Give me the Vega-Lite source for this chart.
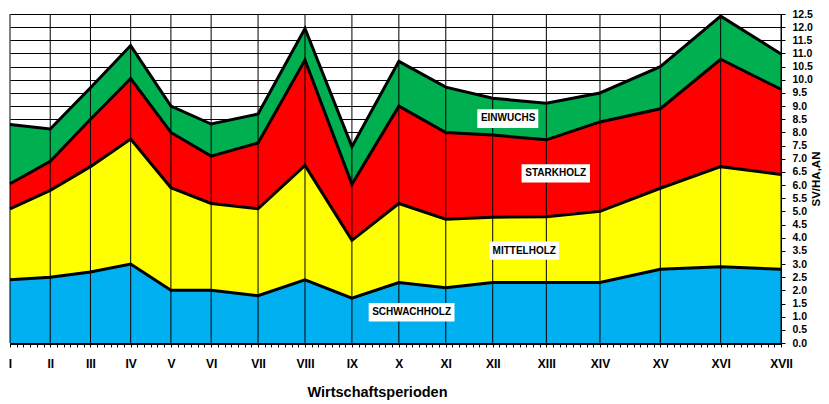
{
  "$schema": "https://vega.github.io/schema/vega-lite/v6.json",
  "autosize": "none",
  "width": 771,
  "height": 329,
  "padding": {"left": 10, "top": 14, "right": 48, "bottom": 61},
  "background": "white",
  "config": {"view": {"stroke": null}},
  "datasets": {
    "periods": [
      {"p": "I", "t": 0, "SCHWACHHOLZ": 2.4, "MITTELHOLZ": 2.7, "STARKHOLZ": 0.95, "EINWUCHS": 2.25},
      {"p": "II", "t": 6, "SCHWACHHOLZ": 2.5, "MITTELHOLZ": 3.3, "STARKHOLZ": 1.1, "EINWUCHS": 1.23},
      {"p": "III", "t": 12, "SCHWACHHOLZ": 2.7, "MITTELHOLZ": 4.0, "STARKHOLZ": 1.8, "EINWUCHS": 1.2},
      {"p": "IV", "t": 18, "SCHWACHHOLZ": 3.0, "MITTELHOLZ": 4.75, "STARKHOLZ": 2.3, "EINWUCHS": 1.25},
      {"p": "V", "t": 24, "SCHWACHHOLZ": 2.0, "MITTELHOLZ": 3.9, "STARKHOLZ": 2.1, "EINWUCHS": 1.0},
      {"p": "VI", "t": 30, "SCHWACHHOLZ": 2.0, "MITTELHOLZ": 3.3, "STARKHOLZ": 1.8, "EINWUCHS": 1.22},
      {"p": "VII", "t": 37, "SCHWACHHOLZ": 1.8, "MITTELHOLZ": 3.3, "STARKHOLZ": 2.5, "EINWUCHS": 1.1},
      {"p": "VIII", "t": 44, "SCHWACHHOLZ": 2.4, "MITTELHOLZ": 4.35, "STARKHOLZ": 4.0, "EINWUCHS": 1.2},
      {"p": "IX", "t": 51, "SCHWACHHOLZ": 1.7, "MITTELHOLZ": 2.2, "STARKHOLZ": 2.13, "EINWUCHS": 1.43},
      {"p": "X", "t": 58, "SCHWACHHOLZ": 2.3, "MITTELHOLZ": 3.0, "STARKHOLZ": 3.7, "EINWUCHS": 1.7},
      {"p": "XI", "t": 65, "SCHWACHHOLZ": 2.1, "MITTELHOLZ": 2.6, "STARKHOLZ": 3.3, "EINWUCHS": 1.72},
      {"p": "XII", "t": 72, "SCHWACHHOLZ": 2.3, "MITTELHOLZ": 2.48, "STARKHOLZ": 3.12, "EINWUCHS": 1.4},
      {"p": "XIII", "t": 80, "SCHWACHHOLZ": 2.3, "MITTELHOLZ": 2.5, "STARKHOLZ": 2.92, "EINWUCHS": 1.39},
      {"p": "XIV", "t": 88, "SCHWACHHOLZ": 2.3, "MITTELHOLZ": 2.7, "STARKHOLZ": 3.4, "EINWUCHS": 1.1},
      {"p": "XV", "t": 97, "SCHWACHHOLZ": 2.8, "MITTELHOLZ": 3.08, "STARKHOLZ": 3.02, "EINWUCHS": 1.6},
      {"p": "XVI", "t": 106, "SCHWACHHOLZ": 2.9, "MITTELHOLZ": 3.8, "STARKHOLZ": 4.08, "EINWUCHS": 1.64},
      {"p": "XVII", "t": 115, "SCHWACHHOLZ": 2.8, "MITTELHOLZ": 3.6, "STARKHOLZ": 3.24, "EINWUCHS": 1.34}
    ],
    "labels": [
      {"name": "EINWUCHS", "x": 74.3, "y": 8.53, "xa": 69.7, "xb": 78.8, "ya": 8.17, "yb": 8.88},
      {"name": "STARKHOLZ", "x": 81.4, "y": 6.44, "xa": 76.3, "xb": 86.5, "ya": 6.1, "yb": 6.79},
      {"name": "MITTELHOLZ", "x": 76.7, "y": 3.51, "xa": 71.5, "xb": 81.9, "ya": 3.16, "yb": 3.86},
      {"name": "SCHWACHHOLZ", "x": 59.9, "y": 1.17, "xa": 53.5, "xb": 66.3, "ya": 0.82, "yb": 1.52}
    ]
  },
  "layer": [
    {
      "data": {"name": "periods"},
      "transform": [
        {"fold": ["SCHWACHHOLZ", "MITTELHOLZ", "STARKHOLZ", "EINWUCHS"], "as": ["series", "value"]},
        {"window": [{"op": "row_number", "as": "k"}], "groupby": ["t"]},
        {"stack": "value", "groupby": ["t"], "sort": [{"field": "k", "order": "ascending"}], "as": ["y0", "y1"]}
      ],
      "mark": {"type": "area", "opacity": 1},
      "encoding": {
        "x": {
          "field": "t", "type": "quantitative",
          "scale": {"domain": [0, 115], "nice": false, "zero": false},
          "axis": {
            "orient": "bottom",
            "title": "Wirtschaftsperioden",
            "titleFont": "Liberation Sans",
            "titleFontSize": 14.5,
            "titleFontWeight": "bold",
            "titleColor": "black",
            "titleX": 367,
            "titlePadding": 16,
            "tickCount": 115,
            "tickSize": 4,
            "tickColor": "black",
            "tickWidth": 1,
            "domainColor": "black",
            "domainWidth": 3,
            "grid": false,
            "labelFlush": false,
            "labelOverlap": false,
            "labelBound": false,
            "labelPadding": 11,
            "labelFont": "Liberation Sans",
            "labelFontSize": 12,
            "labelFontWeight": "bold",
            "labelColor": "black",
            "labelExpr": "indexof([0,6,12,18,24,30,37,44,51,58,65,72,80,88,97,106,115], datum.value) < 0 ? '' : ['I','II','III','IV','V','VI','VII','VIII','IX','X','XI','XII','XIII','XIV','XV','XVI','XVII'][indexof([0,6,12,18,24,30,37,44,51,58,65,72,80,88,97,106,115], datum.value)]"
          }
        },
        "y": {
          "field": "y1", "type": "quantitative",
          "scale": {"domain": [0, 12.5], "nice": false},
          "axis": {
            "orient": "right",
            "title": "SV/HA,AN",
            "titleFont": "Liberation Sans",
            "titleFontSize": 11.5,
            "titleFontWeight": "bold",
            "titleColor": "black",
            "titleAngle": 270,
            "titlePadding": 9,
            "tickCount": 25,
            "format": ".1f",
            "grid": true,
            "gridColor": "black",
            "gridOpacity": 1,
            "gridWidth": 1,
            "domainColor": "black",
            "domainWidth": 1,
            "tickColor": "black",
            "tickSize": 4,
            "labelPadding": 7,
            "labelFont": "Liberation Sans",
            "labelFontSize": 10.5,
            "labelFontWeight": "bold",
            "labelColor": "black",
            "labelOverlap": false,
            "labelFlush": false,
            "labelBound": false
          }
        },
        "y2": {"field": "y0"},
        "color": {
          "field": "series", "type": "nominal",
          "scale": {"domain": ["SCHWACHHOLZ", "MITTELHOLZ", "STARKHOLZ", "EINWUCHS"], "range": ["#00B0F0", "#FFFF00", "#FF0000", "#00B050"]},
          "legend": null
        }
      }
    },
    {
      "data": {"name": "periods"},
      "mark": {"type": "rule", "color": "black", "strokeWidth": 1},
      "encoding": {
        "x": {"field": "t", "type": "quantitative"}
      }
    },
    {
      "data": {"name": "periods"},
      "transform": [
        {"fold": ["SCHWACHHOLZ", "MITTELHOLZ", "STARKHOLZ", "EINWUCHS"], "as": ["series", "value"]},
        {"window": [{"op": "row_number", "as": "k"}], "groupby": ["t"]},
        {"stack": "value", "groupby": ["t"], "sort": [{"field": "k", "order": "ascending"}], "as": ["y0", "y1"]}
      ],
      "mark": {"type": "line", "color": "black", "strokeJoin": "miter"},
      "encoding": {
        "x": {"field": "t", "type": "quantitative"},
        "y": {"field": "y1", "type": "quantitative"},
        "detail": {"field": "series"},
        "strokeWidth": {
          "field": "series", "type": "nominal",
          "scale": {"domain": ["SCHWACHHOLZ", "MITTELHOLZ", "STARKHOLZ", "EINWUCHS"], "range": [3, 3, 3, 1.5]},
          "legend": null
        }
      }
    },
    {
      "data": {"name": "labels"},
      "mark": {"type": "rect", "color": "white"},
      "encoding": {
        "x": {"field": "xa", "type": "quantitative"},
        "x2": {"field": "xb"},
        "y": {"field": "ya", "type": "quantitative"},
        "y2": {"field": "yb"}
      }
    },
    {
      "data": {"name": "labels"},
      "mark": {"type": "text", "font": "Liberation Sans", "fontSize": 10, "fontWeight": "bold", "color": "black", "align": "center", "baseline": "middle"},
      "encoding": {
        "x": {"field": "x", "type": "quantitative"},
        "y": {"field": "y", "type": "quantitative"},
        "text": {"field": "name"}
      }
    }
  ]
}
